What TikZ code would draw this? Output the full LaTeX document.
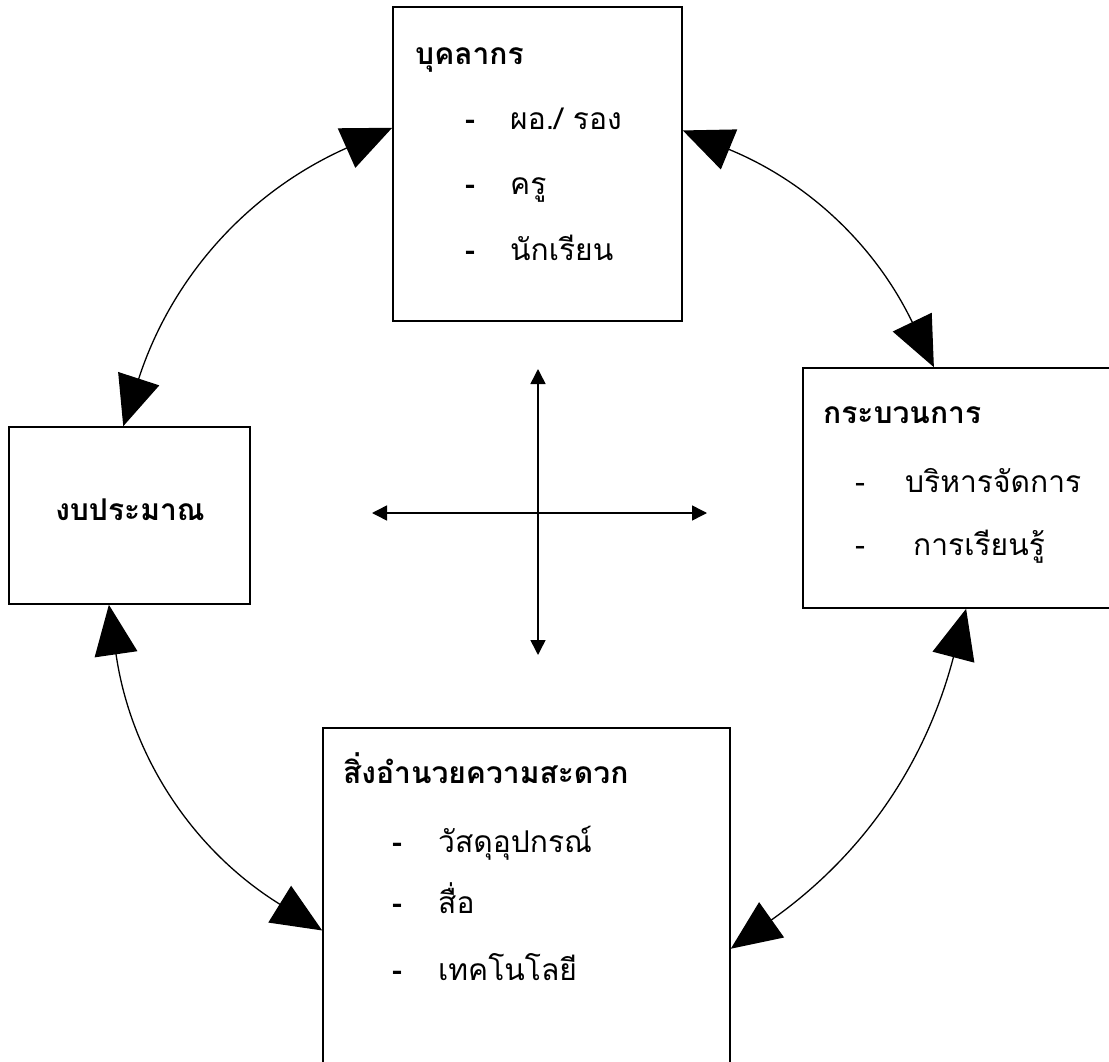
\documentclass[tikz,border=0pt]{standalone}
\usepackage{fontspec}
\newfontfamily\thaifont[Script=Thai]{Loma}
\usetikzlibrary{arrows.meta}
\tikzset{
  box/.style={draw, line width=1.6pt, inner sep=0pt},
  txt/.style={anchor=base west, inner sep=0pt, font=\thaifont\fontsize{30}{36}\selectfont},
  head/.style={txt, font=\thaifont\bfseries\fontsize{30}{36}\selectfont},
  link/.style={{Triangle[length=50pt,width=43pt]}-{Triangle[length=50pt,width=43pt]}, line width=1.3pt},
  axis/.style={{Triangle[length=15pt,width=15pt]}-{Triangle[length=15pt,width=15pt]}, line width=1.5pt}
}
\newcommand{\dashitem}[2][45pt]{\makebox[#1][l]{\textbf{-}}#2}
\newcommand{\thinitem}[2][50pt]{\makebox[#1][l]{-}#2}
\begin{document}
\begin{tikzpicture}[x=1pt,y=-1pt]
	\useasboundingbox (0,0) rectangle (1109,1062);
	\clip (0,0) rectangle (1109,1062);
	% boxes
	\node[box, minimum width=289pt, minimum height=314pt] (ppl) at (537.5,164) {};
	\node[box, minimum width=241pt, minimum height=177pt] (bud) at (129.5,515.5) {};
	\node[box, minimum width=322pt, minimum height=240pt] (proc) at (964,488) {};
	\node[box, minimum width=407pt, minimum height=362pt] (fac) at (526.5,909) {};
	% texts
	\node[head] (ppl-t) at (415,65) {บุคลากร};
	\node[txt] (ppl-a) at (465,130) {\dashitem{ผอ./ รอง}};
	\node[txt] (ppl-b) at (465,195) {\dashitem{ครู}};
	\node[txt] (ppl-c) at (465,260) {\dashitem{นักเรียน}};
	\node[head, anchor=base] (bud-t) at (130,520) {งบประมาณ};
	\node[head] (proc-t) at (823,423) {กระบวนการ};
	\node[txt] (proc-a) at (855,492) {\thinitem{บริหารจัดการ}};
	\node[txt] (proc-b) at (855,555) {\thinitem[58pt]{การเรียนรู้}};
	\node[head] (fac-t) at (343,783) {สิ่งอำนวยความสะดวก};
	\node[txt] (fac-a) at (392,852) {\dashitem[46pt]{วัสดุอุปกรณ์}};
	\node[txt] (fac-b) at (392,913) {\dashitem[46pt]{สื่อ}};
	\node[txt] (fac-c) at (392,980) {\dashitem[46pt]{เทคโนโลยี}};
	% links
	\draw[link] (bud.94.8) to[bend left=24] (ppl.166);
	\draw[link] (ppl.13.2) to[bend left=21] (proc.104.4);
	\draw[link] (proc.271) to[bend left=20] (fac.349.4);
	\draw[link] (fac.186.7) to[bend left=25] (bud.257.4);
	% cross
	\coordinate (ax-n) at (538,369);
	\coordinate (ax-s) at (538,655);
	\coordinate (ax-w) at (372,513);
	\coordinate (ax-e) at (707,513);
	\draw[axis] (ax-w) -- (ax-e);
	\draw[axis] (ax-n) -- (ax-s);
\end{tikzpicture}
\end{document}
